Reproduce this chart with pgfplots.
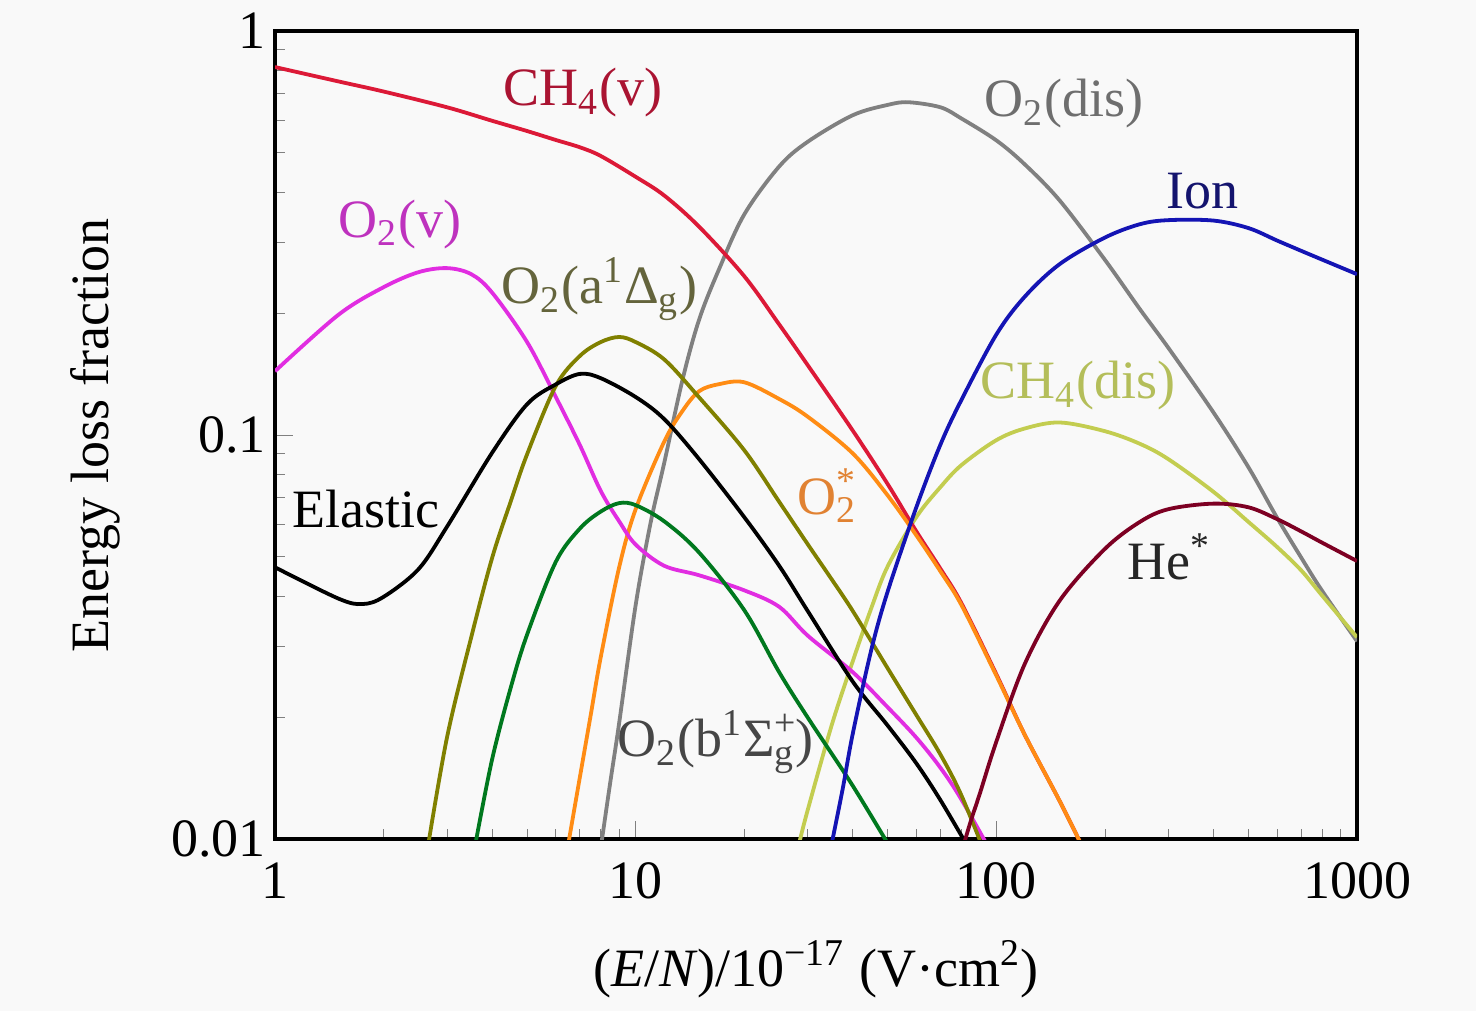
\documentclass[border=0pt]{standalone}
\usepackage{fontspec}
\setmainfont{Liberation Serif}
\usepackage{pgfplots}
\pgfplotsset{compat=1.18}
\usetikzlibrary{backgrounds}
\definecolor{bgc}{RGB}{249,249,249}
\definecolor{cch4v}{RGB}{220,25,55}
\definecolor{cch4vlab}{RGB}{170,20,50}
\definecolor{co2v}{RGB}{225,45,225}
\definecolor{co2vlab}{RGB}{190,50,190}
\definecolor{co2a}{RGB}{128,128,0}
\definecolor{co2alab}{RGB}{100,100,60}
\definecolor{co2b}{RGB}{0,120,30}
\definecolor{co2blab}{RGB}{70,70,70}
\definecolor{co2s}{RGB}{255,140,20}
\definecolor{co2slab}{RGB}{225,130,50}
\definecolor{co2d}{RGB}{128,128,128}
\definecolor{co2dlab}{RGB}{110,110,110}
\definecolor{cion}{RGB}{20,20,180}
\definecolor{cionlab}{RGB}{20,20,110}
\definecolor{cch4d}{RGB}{195,205,80}
\definecolor{cch4dlab}{RGB}{180,190,90}
\definecolor{che}{RGB}{125,0,35}
\newcommand{\fs}{\fontsize{13.5}{16}\selectfont}
\pgfplotsset{cv/.style={line width=0.95pt, smooth, tension=0.55, mark=none}}
\begin{document}
\begin{tikzpicture}[background rectangle/.style={fill=bgc}, show background rectangle, inner frame sep=0pt]
\begin{axis}[
  scale only axis, width=270.5pt, height=202pt,
  xmode=log, ymode=log,
  xmin=1, xmax=1000, ymin=0.01, ymax=1,
  xtick={1,10,100,1000}, xticklabels={1,10,100,1000},
  ytick={0.01,0.1,1}, yticklabels={0.01,0.1,1},
  xtick pos=bottom, ytick pos=left,
  tick align=inside,
  major tick length=4.5pt, minor tick length=2.5pt,
  line width=1pt,
  tick label style={font=\fs},
  xticklabel style={yshift=-2pt},
  yticklabel style={xshift=1.5pt},
  xlabel={(\textit{E}/\textit{N})/10\textsuperscript{−17} (V·cm\textsuperscript{2})},
  ylabel={Energy loss fraction},
  every axis x label/.style={at={(axis description cs:0.5,-0.161)},anchor=center,font=\fs},
  every axis y label/.style={at={(axis description cs:-0.1664,0.5)},anchor=center,rotate=90,font=\fs},
]
% O2(dis)
\addplot[cv, co2d] coordinates {(8,0.0095)(8.5,0.0138)(9,0.0194)(10,0.0380)(11,0.0607)(12,0.0854)(13.5,0.1377)(15,0.1934)(17,0.2566)(20,0.3518)(25,0.4625)(30,0.5325)(40,0.6195)(50,0.657)(57,0.667)(70,0.648)(80,0.608)(100,0.5366)(120,0.4677)(150,0.3806)(200,0.2717)(250,0.2051)(300,0.1644)(400,0.1138)(500,0.0833)(600,0.0625)(700,0.0498)(800,0.0412)(1000,0.0309)};
% CH4(dis)
\addplot[cv, cch4d] coordinates {(28.5,0.0099)(30,0.01182)(35,0.01922)(40,0.0276)(45,0.0373)(50,0.0474)(60,0.0627)(70,0.0744)(80,0.0843)(100,0.0972)(120,0.1039)(150,0.1075)(200,0.1023)(250,0.0952)(300,0.0872)(400,0.0724)(500,0.0610)(600,0.0529)(700,0.0463)(800,0.0401)(1000,0.0316)};
% CH4(v)
\addplot[cv, cch4v] coordinates {(1,0.815)(1.5,0.751)(2,0.709)(3,0.648)(4,0.600)(5,0.566)(6,0.538)(7,0.516)(8,0.491)(10,0.436)(12,0.392)(15,0.328)(20,0.2475)(25,0.188)(30,0.149)(40,0.1026)(50,0.0756)(60,0.0578)(70,0.0467)(80,0.0384)(100,0.0256)(120,0.0181)(150,0.0124)(175,0.0094)};
% O2*
\addplot[cv, co2s] coordinates {(6.5,0.0097)(7,0.0142)(7.5,0.0202)(8,0.0282)(9,0.0471)(10,0.0656)(12,0.0964)(13.5,0.115)(15,0.1285)(17,0.1337)(20,0.1352)(25,0.1229)(30,0.1111)(40,0.0901)(50,0.0709)(60,0.0565)(70,0.0460)(80,0.0380)(100,0.0254)(120,0.0181)(150,0.0124)(175,0.0094)};
% O2(v)
\addplot[cv, co2v] coordinates {(1,0.144)(1.5,0.1987)(2,0.2324)(2.5,0.2532)(3,0.2591)(3.5,0.2503)(4,0.2253)(5,0.170)(6,0.1245)(7,0.0946)(8,0.0728)(9,0.0612)(10,0.0536)(12,0.0475)(15,0.0450)(20,0.0413)(25,0.0376)(30,0.0319)(40,0.0259)(50,0.0212)(60,0.01784)(70,0.01502)(80,0.01254)(100,0.0088)};
% O2(a1Delta g)
\addplot[cv, co2a] coordinates {(2.65,0.0095)(3,0.0179)(3.5,0.0316)(4,0.0497)(4.5,0.0684)(5,0.0897)(6,0.1322)(7,0.157)(8,0.170)(9,0.175)(10,0.1700)(12,0.154)(15,0.124)(20,0.0918)(25,0.0684)(30,0.0537)(35,0.0439)(40,0.0367)(50,0.02646)(60,0.0203)(70,0.0162)(80,0.01284)(95,0.0088)};
% O2(b1Sigma g+)
\addplot[cv, co2b] coordinates {(3.6,0.0098)(4,0.01578)(4.5,0.02365)(5,0.0321)(6,0.0485)(7,0.0587)(8,0.0647)(9,0.0679)(10,0.0671)(12,0.0612)(15,0.0512)(20,0.0369)(25,0.0259)(30,0.0200)(40,0.01355)(52,0.0092)};
% Elastic
\addplot[cv, black] coordinates {(1,0.0471)(1.5,0.0394)(1.75,0.0382)(2,0.0398)(2.5,0.0466)(3,0.0594)(4,0.0905)(5,0.1193)(6,0.1335)(7,0.1418)(8,0.1384)(10,0.1243)(12,0.1096)(15,0.0872)(20,0.0627)(25,0.0475)(30,0.0367)(40,0.02454)(50,0.0191)(60,0.01541)(70,0.01249)(85,0.0093)};
% Ion
\addplot[cv, cion] coordinates {(35,0.0098)(37.5,0.01332)(40,0.01827)(45,0.0294)(50,0.0411)(60,0.0663)(70,0.0948)(80,0.1222)(100,0.1775)(120,0.2204)(150,0.2653)(200,0.3084)(250,0.3328)(300,0.3406)(400,0.3398)(500,0.3256)(600,0.3033)(700,0.286)(800,0.272)(1000,0.2503)};
% He*
\addplot[cv, che] coordinates {(81.5,0.0098)(85,0.01111)(90,0.01297)(100,0.01744)(120,0.0272)(150,0.0390)(200,0.0523)(250,0.0610)(300,0.0656)(400,0.0677)(500,0.0663)(600,0.0620)(700,0.0578)(800,0.0542)(1000,0.0488)};
% labels
\begin{scope}[every node/.style={font=\fs, inner sep=0pt, anchor=center}]
\node[text=cch4vlab] at (rel axis cs:0.285,0.924) {CH\textsubscript{4}(v)};
\node[text=co2vlab] at (rel axis cs:0.1155,0.761) {O\textsubscript{2}(v)};
\node[text=co2alab] at (rel axis cs:0.300,0.681) {O\textsubscript{2}(a\textsuperscript{1}Δ\textsubscript{g})};
\node[text=black] at (rel axis cs:0.084,0.408) {Elastic};
\node[text=co2blab] at (rel axis cs:0.407,0.120) {O\textsubscript{2}(b\textsuperscript{1}Σ\rlap{\textsuperscript{+}}\textsubscript{g})};
\node[text=co2slab] at (rel axis cs:0.511,0.425) {O\rlap{\textsuperscript{*}}\textsubscript{2}};
\node[text=co2dlab] at (rel axis cs:0.729,0.910) {O\textsubscript{2}(dis)};
\node[text=cionlab] at (rel axis cs:0.857,0.802) {Ion};
\node[text=cch4dlab] at (rel axis cs:0.742,0.561) {CH\textsubscript{4}(dis)};
\node[text=black!85] at (rel axis cs:0.827,0.349) {He\textsuperscript{*}};
\end{scope}
\coordinate (bl) at (rel axis cs:-0.25416,-0.19926);
\coordinate (tr) at (rel axis cs:1.10998,1.03342);
\end{axis}
\path (bl) rectangle (tr);
\end{tikzpicture}
\end{document}
